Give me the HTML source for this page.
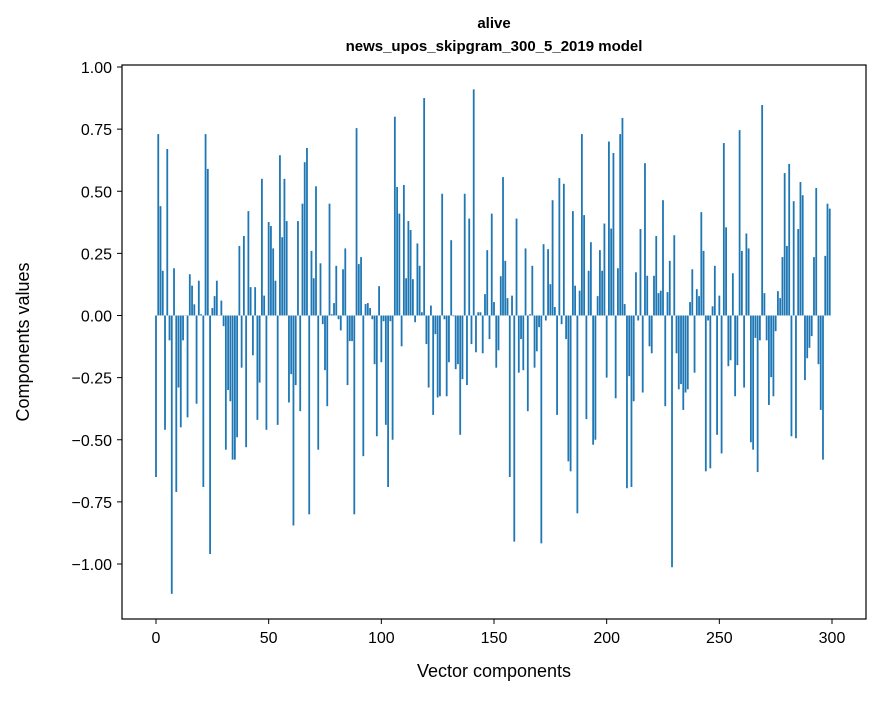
<!DOCTYPE html>
<html><head><meta charset="utf-8"><style>
body{margin:0;background:#fff;}
svg text{font-family:"Liberation Sans",sans-serif;fill:#000;}
</style></head><body>
<svg id="chart" width="880" height="696" xmlns="http://www.w3.org/2000/svg">
<rect width="880" height="696" fill="#fff"/>
<text x="494" y="28" text-anchor="middle" font-size="15" font-weight="bold">alive</text>
<text x="494" y="51" text-anchor="middle" font-size="15" font-weight="bold">news_upos_skipgram_300_5_2019 model</text>
<g id="bars"></g>
<g id="axes"></g>
<rect x="122" y="65" width="744" height="554" fill="none" stroke="#000" stroke-width="1.2"/>
<text x="494" y="677" text-anchor="middle" font-size="18">Vector components</text>
<text transform="translate(29,342) rotate(-90)" text-anchor="middle" font-size="18">Components values</text>
</svg>
<script>
const values = [
-0.65,0.73,0.44,0.18,-0.46,0.67,-0.10,-1.12,0.19,-0.71,
-0.29,-0.45,-0.10,0.0,-0.41,0.166,0.12,0.045,-0.355,0.14,
0.005,-0.69,0.73,0.59,-0.96,0.03,0.078,0.14,0.0,0.06,
-0.043,-0.54,-0.30,-0.345,-0.58,-0.58,-0.49,0.28,-0.21,0.32,
-0.53,0.42,0.114,-0.16,0.114,-0.42,-0.27,0.55,0.08,-0.46,
0.376,0.36,0.27,0.14,-0.44,0.645,0.315,0.55,0.38,-0.35,
-0.236,-0.845,-0.28,0.38,-0.385,0.45,0.617,0.674,-0.80,0.26,
0.15,0.52,-0.54,0.21,-0.035,-0.22,-0.365,0.45,0.005,0.05,
0.2,-0.015,-0.06,0.186,0.27,-0.28,-0.103,-0.103,-0.80,0.754,
0.207,0.235,-0.566,0.046,0.05,0.03,-0.015,-0.196,-0.486,0.118,
-0.188,-0.023,-0.44,-0.69,-0.023,-0.5,0.80,0.517,0.41,-0.124,
0.525,0.15,0.38,0.344,0.146,-0.027,0.29,0.2,0.013,0.875,
-0.115,-0.29,0.04,-0.40,-0.075,-0.33,-0.325,0.49,-0.015,-0.325,
-0.188,0.303,-0.003,-0.216,-0.196,-0.48,-0.256,0.49,-0.28,0.39,
-0.115,0.91,-0.148,0.013,0.013,-0.152,0.086,0.263,-0.095,0.41,
0.054,-0.21,-0.14,0.158,0.557,0.22,0.07,-0.65,0.08,-0.91,
0.39,-0.23,-0.095,-0.22,0.27,-0.385,0.005,0.2,-0.21,-0.144,
-0.047,-0.917,0.287,-0.02,0.267,0.126,0.464,0.034,-0.40,0.553,
-0.035,0.53,-0.095,-0.587,-0.627,0.42,0.12,-0.796,0.1,0.73,
0.404,-0.417,0.18,0.295,-0.52,-0.5,0.078,0.263,0.18,0.37,
-0.25,0.70,0.35,0.654,-0.333,0.19,0.73,0.795,0.046,-0.695,
-0.244,-0.69,-0.345,0.174,-0.02,0.348,-0.31,0.613,0.16,-0.124,
-0.152,0.16,0.32,0.09,0.1,0.464,-0.365,0.094,0.22,-1.013,
0.323,-0.152,-0.297,-0.276,-0.38,-0.31,-0.297,0.054,0.186,-0.23,
0.106,0.078,0.416,0.26,-0.627,-0.02,-0.615,0.037,0.2,-0.48,
0.08,-0.555,0.694,0.355,-0.204,-0.18,0.17,-0.325,-0.2,0.746,
0.26,-0.29,0.33,0.27,-0.51,-0.54,-0.09,-0.63,-0.1,0.847,
0.09,-0.1,-0.36,-0.248,-0.325,-0.063,0.098,0.07,0.235,0.573,
0.28,0.61,-0.486,0.46,-0.494,0.348,0.537,0.484,-0.26,-0.172,
-0.13,-0.083,0.235,0.513,-0.196,-0.38,-0.58,0.24,0.45,0.43
];
const xTicks = [0,50,100,150,200,250,300];
const yTicks = [-1.00,-0.75,-0.50,-0.25,0.00,0.25,0.50,0.75,1.00];

const NS="http://www.w3.org/2000/svg";
const xScale = v => 156 + v*(676/300);
const yScale = v => 315.5 - v*248.5;
const bars=document.getElementById('bars');
const bw=0.8*(676/300);
values.forEach((v,i)=>{
  const r=document.createElementNS(NS,'rect');
  const y0=yScale(0), y1=yScale(v);
  r.setAttribute('x',(xScale(i)-bw/2).toFixed(2));
  r.setAttribute('y',Math.min(y0,y1).toFixed(2));
  r.setAttribute('width',bw.toFixed(2));
  r.setAttribute('height',Math.max(Math.abs(y1-y0),0.3).toFixed(2));
  r.setAttribute('fill','#1f77b4');
  
  
  bars.appendChild(r);
});
const axes=document.getElementById('axes');
xTicks.forEach(t=>{
  const x=xScale(t);
  const l=document.createElementNS(NS,'line');
  l.setAttribute('x1',x);l.setAttribute('x2',x);l.setAttribute('y1',619);l.setAttribute('y2',624);
  l.setAttribute('stroke','#000');
  
  
  axes.appendChild(l);
  const tx=document.createElementNS(NS,'text');
  tx.setAttribute('x',x);tx.setAttribute('y',643);tx.setAttribute('text-anchor','middle');tx.setAttribute('font-size','16');
  tx.textContent=t;
  
  
  axes.appendChild(tx);
});
yTicks.forEach(t=>{
  const y=yScale(t);
  const l=document.createElementNS(NS,'line');
  l.setAttribute('x1',117);l.setAttribute('x2',122);l.setAttribute('y1',y);l.setAttribute('y2',y);
  l.setAttribute('stroke','#000');
  
  
  axes.appendChild(l);
  const tx=document.createElementNS(NS,'text');
  tx.setAttribute('x',112);tx.setAttribute('y',y+6);tx.setAttribute('text-anchor','end');tx.setAttribute('font-size','16');
  tx.textContent=(t<0?'\u2212':'')+Math.abs(t).toFixed(2);
  
  
  axes.appendChild(tx);
});
</script>
</body></html>
